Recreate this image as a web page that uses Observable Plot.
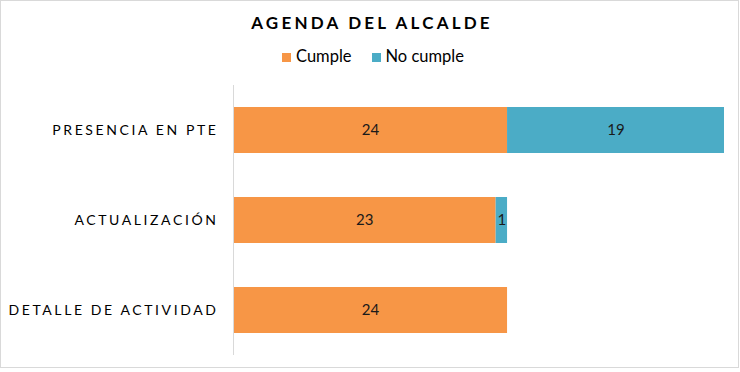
<!DOCTYPE html>
<html>
<head>
<meta charset="utf-8">
<script src="https://cdn.jsdelivr.net/npm/d3@7"></script>
<script src="https://cdn.jsdelivr.net/npm/@observablehq/plot@0.6"></script>
<style>
  html, body { margin: 0; padding: 0; background: #fff; }
  body { width: 740px; height: 372px; position: relative; overflow: hidden; font-family: Lato, "DejaVu Sans", sans-serif; }
  #frame { position: absolute; left: 0; top: 0; width: 737px; height: 366px; border: 1px solid #d9d9d9; }
  #title { position: absolute; left: 2px; top: 12px; width: 740px; text-align: center; font-size: 17px; font-weight: bold; letter-spacing: 3.2px; color: #000; }
  #legend { position: absolute; left: 3px; top: 46px; width: 740px; text-align: center; font-size: 16.5px; color: #000; }
  #legend span.item { display: inline-block; margin: 0 10px; }
  #legend span.sw { display: inline-block; width: 9px; height: 9px; margin-right: 5px; vertical-align: 0px; }
  #chart { position: absolute; left: 0; top: 85px; }
  #chart svg [aria-label="y-axis tick label"] text { letter-spacing: 2.6px; }
</style>
</head>
<body>
<div id="frame"></div>
<div id="title">AGENDA DEL ALCALDE</div>
<div id="legend"></div>
<div id="chart"></div>
<script>
const categories = ["PRESENCIA EN PTE", "ACTUALIZACIÓN", "DETALLE DE ACTIVIDAD"];
const series = ["Cumple", "No cumple"];
const cumple = [24, 23, 24];
const noCumple = [19, 1, 0];
const colors = ["#F79646", "#4BACC6"];

const rows = [];
categories.forEach((c, i) => {
  rows.push({cat: c, serie: series[0], value: cumple[i]});
  rows.push({cat: c, serie: series[1], value: noCumple[i]});
});

const legend = document.getElementById("legend");
series.forEach((s, i) => {
  const item = document.createElement("span");
  item.className = "item";
  const sw = document.createElement("span");
  sw.className = "sw";
  sw.style.background = colors[i];
  item.appendChild(sw);
  item.appendChild(document.createTextNode(s));
  legend.appendChild(item);
});

const plot = Plot.plot({
  width: 740,
  height: 270,
  marginLeft: 233,
  marginRight: 16,
  marginTop: 0,
  marginBottom: 0,
  style: {fontFamily: "Lato, 'DejaVu Sans', sans-serif", fontSize: "14px", color: "#000", background: "transparent"},
  x: {domain: [0, 43], axis: null},
  y: {domain: categories, paddingInner: 0.489, paddingOuter: 0.244, label: null, tickSize: 0, tickPadding: 15},
  color: {domain: series, range: colors},
  marks: [
    Plot.barX(rows, {x: "value", y: "cat", fill: "serie", order: series}),
    Plot.text(rows.filter(d => d.value > 0), Plot.stackX({x: "value", y: "cat", z: "serie", order: series, text: d => String(d.value), fill: "#1a1a1a", fontSize: 15})),
    Plot.ruleX([0], {stroke: "#d9d9d9", strokeWidth: 1})
  ]
});
document.getElementById("chart").appendChild(plot);
</script>
</body>
</html>
